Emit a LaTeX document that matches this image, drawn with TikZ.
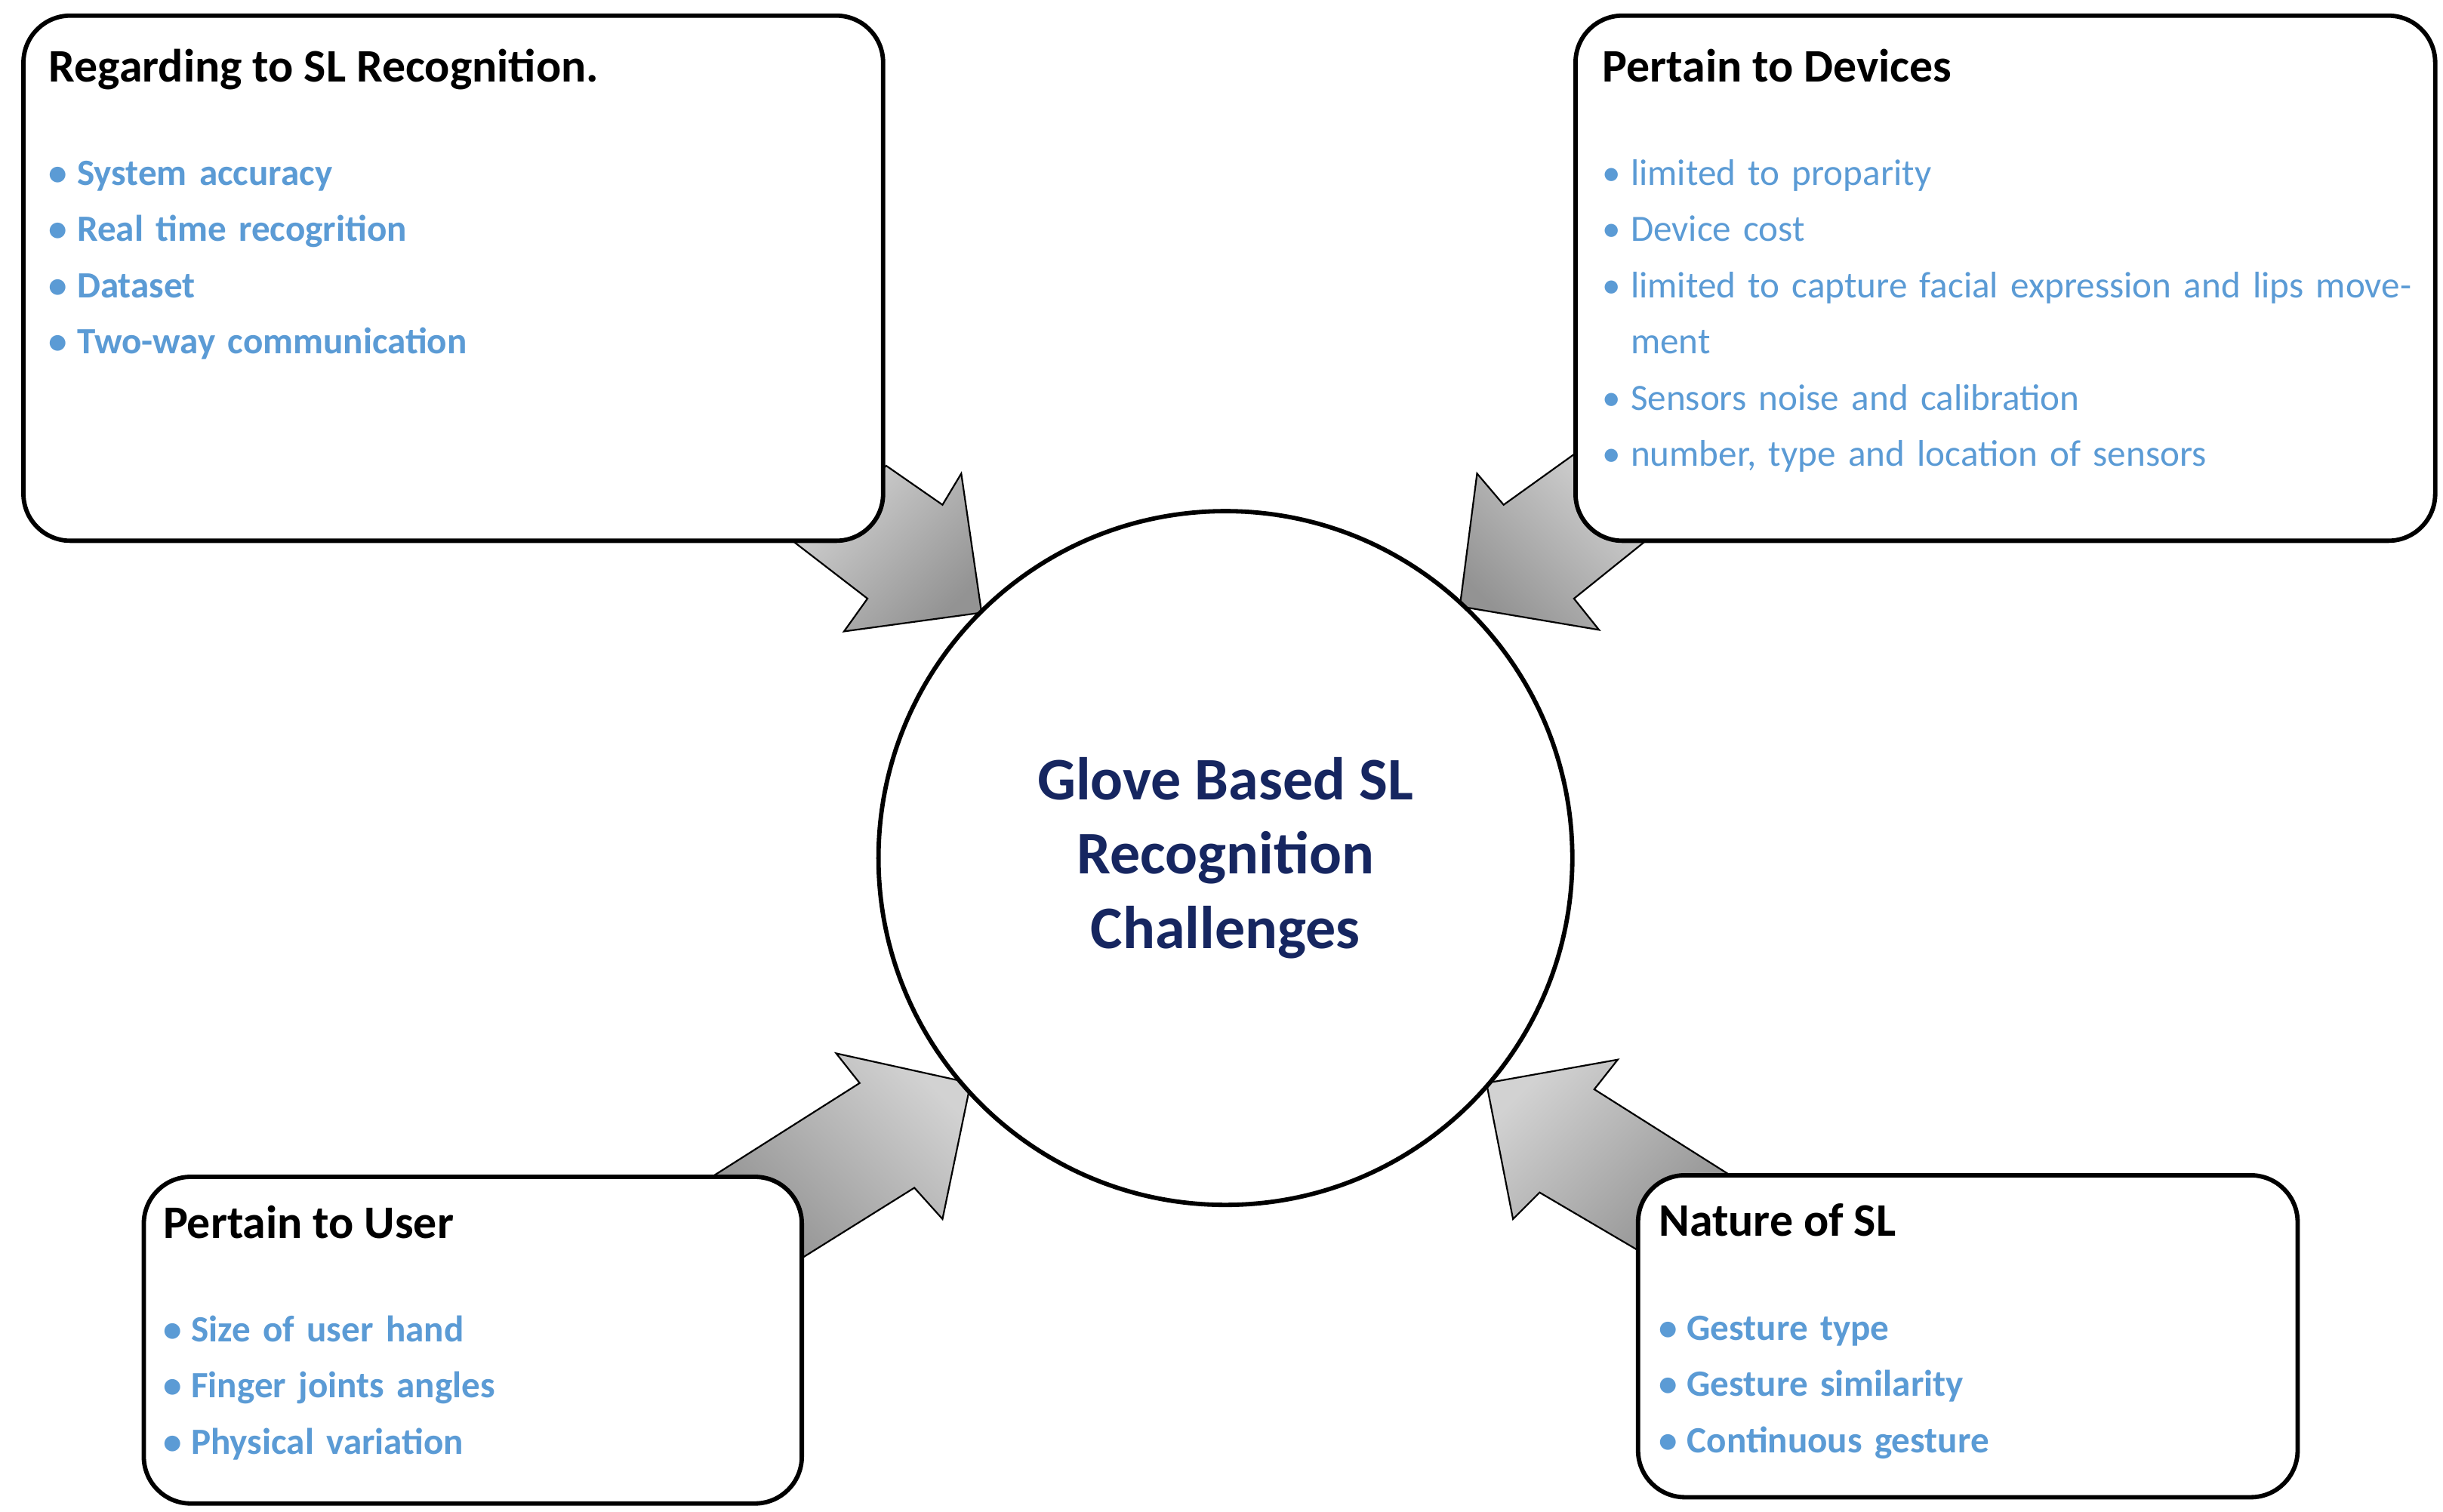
\documentclass[tikz,border=0pt]{standalone}
\usepackage{fontspec}
\setmainfont{Carlito}
\begin{document}
\definecolor{itc}{RGB}{91,155,213}
\definecolor{ctr}{RGB}{22,38,96}
\newcommand{\itm}[1]{\par\hangindent=0.36cm\hangafter=1\noindent\makebox[0.36cm][l]{\textbullet}#1}
\begin{tikzpicture}[x=0.02cm,y=-0.02cm,
  box/.style={draw,line width=1.6pt,rounded corners=0.6cm},
  arr/.style={draw,line width=0.6pt,left color=gray!35,right color=gray!85,shading angle=45},
  ttl/.style={anchor=north west,inner sep=0pt,font=\fontsize{17}{20}\selectfont\bfseries},
  items/.style={anchor=north west,inner sep=0pt,text=itc,align=left,font=\fontsize{13.5}{20.5}\selectfont}]
\useasboundingbox (0,0) rectangle (1563,967);
% arrows
\path[arr] (567,298)--(603,323)--(615,303)--(628,392)--(540,404)--(555,383)--(507,346)--cycle;
\path[arr,shading angle=-45] (1008,290)--(962,323)--(945,303)--(934,388)--(1023,403)--(1007,383)--(1053,346)--cycle;
\path[arr,shading angle=-45] (457,752)--(550,693)--(535,674)--(621,693)--(603,780)--(585,760)--(513,805)--cycle;
\path[arr] (1107,752)--(1020,697)--(1035,678)--(951,693)--(968,780)--(985,763)--(1048,800)--cycle;
% center
\node[circle,draw,line width=1.6pt,fill=white,minimum size=8.88cm,align=center,text=ctr,
  font=\fontsize{22}{27}\selectfont\bfseries] (c) at (784,549) {Glove Based SL\\Recognition\\Challenges};
% boxes
\draw[box,fill=white] (15,10) rectangle (565,346);
\draw[box,fill=white] (1008,10) rectangle (1558,346);
\draw[box,fill=white] (92,753) rectangle (513,962);
\draw[box,fill=white] (1048,752) rectangle (1470,958);
\node[ttl] (t1) at (31,31) {Regarding to SL Recognition.};
\node[items,text width=10cm,font=\fontsize{13.5}{20.5}\selectfont\bfseries] (i1) at (31,82) {\itm{System accuracy}\itm{Real time recogrition}\itm{Dataset}\itm{Two-way communication}};
\node[ttl] (t2) at (1025,31) {Pertain to Devices};
\node[items,text width=10.4cm] (i2) at (1025,82) {\itm{limited to proparity}\itm{Device cost}\itm{limited to capture facial expression and lips movement}\itm{Sensors noise and calibration}\itm{number, type and location of sensors}};
\node[ttl] (t3) at (104,771) {Pertain to User};
\node[items,text width=7.5cm,font=\fontsize{13.5}{20.5}\selectfont\bfseries] (i3) at (104,822) {\itm{Size of user hand}\itm{Finger joints angles}\itm{Physical variation}};
\node[ttl] (t4) at (1061,770) {Nature of SL};
\node[items,text width=7.5cm,font=\fontsize{13.5}{20.5}\selectfont\bfseries] (i4) at (1061,821) {\itm{Gesture type}\itm{Gesture similarity}\itm{Continuous gesture}};
\end{tikzpicture}
\end{document}
